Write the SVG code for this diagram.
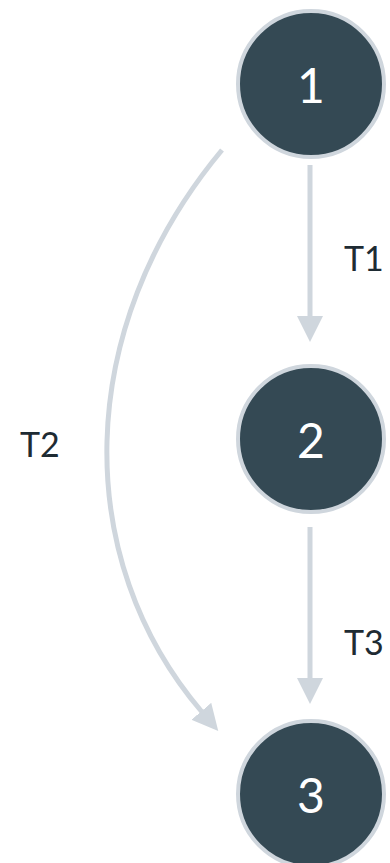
<svg xmlns="http://www.w3.org/2000/svg" width="390" height="863" viewBox="0 0 390 863">
<style>
.node circle{fill:#344954;stroke:#cfd6dd;stroke-width:4}
.node text{fill:#ffffff;font-family:Lato,"Open Sans",sans-serif;font-size:48px;text-anchor:middle}
.edge{fill:none;stroke:#cfd6dd;stroke-width:5}
.lbl{fill:#1e2b33;font-family:Lato,"Open Sans",sans-serif;font-size:34px}
</style>
<defs>
<marker id="arr" markerUnits="userSpaceOnUse" viewBox="0 0 26 26" markerWidth="26" markerHeight="26" refX="1" refY="13" orient="auto">
<path d="M0,0 L26,13 L0,26 z" fill="#cfd6dd"/>
</marker>
</defs>
<rect width="390" height="863" fill="#ffffff"/>
<g id="connectors">
<path class="edge" d="M310,165 L310,317" marker-end="url(#arr)"/>
<text class="lbl" x="344" y="271">T1</text>
<path class="edge" d="M222,150 C72,330 72,560 202,712" marker-end="url(#arr)"/>
<text class="lbl" x="20" y="457">T2</text>
<path class="edge" d="M310,527 L310,679" marker-end="url(#arr)"/>
<text class="lbl" x="344" y="655">T3</text>
</g>
<g id="node1" class="node"><circle cx="311" cy="84" r="73"/><text x="311" y="103">1</text></g>
<g id="node2" class="node"><circle cx="311" cy="439" r="73"/><text x="311" y="458">2</text></g>
<g id="node3" class="node"><circle cx="311" cy="794" r="73"/><text x="311" y="813">3</text></g>
</svg>
